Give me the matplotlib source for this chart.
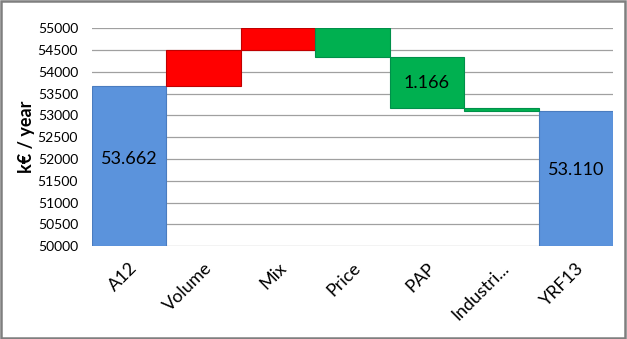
import matplotlib.pyplot as plt
import numpy as np
from matplotlib.patches import Rectangle

# Dados da cascata (k€ / ano)
categorias = ['A12', 'Volume', 'Mix', 'Price', 'PAP', 'Industri...', 'YRF13']
inicio = 53662
variacoes = [838, 500, -665, -1166, -59]
fim = 53110
rotulos = {0: '53.662', 4: '1.166', 6: '53.110'}

azul = '#5B93DC'
vermelho = '#FF0000'
verde = '#00B050'

plt.rcParams['font.family'] = ['Lato', 'DejaVu Sans']

fig = plt.figure(figsize=(6.27, 3.39), dpi=100)
ax = fig.add_axes([0.1467, 0.274, 0.831, 0.643])

base = 50000
x = np.arange(len(categorias))

# barras de início e fim
ax.bar(0, inicio - base, bottom=base, width=1.0, color=azul, edgecolor='#4A7CBF', linewidth=0.8, zorder=3)
ax.bar(6, fim - base, bottom=base, width=1.0, color=azul, edgecolor='#4A7CBF', linewidth=0.8, zorder=3)

# barras intermediárias
nivel = inicio
for i, v in enumerate(variacoes, start=1):
    cor = vermelho if v > 0 else verde
    borda = '#C00000' if v > 0 else '#00904A'
    ax.bar(i, abs(v), bottom=min(nivel, nivel + v), width=1.0, color=cor,
           edgecolor=borda, linewidth=0.8, zorder=3)
    nivel += v

# rótulos dentro das barras
ax.text(0, 52000, rotulos[0], ha='center', va='center', fontsize=13, zorder=4)
ax.text(4, 53169 + 1166 / 2, rotulos[4], ha='center', va='center', fontsize=13, zorder=4)
ax.text(6, 51750, rotulos[6], ha='center', va='center', fontsize=13, zorder=4)

ax.set_ylim(50000, 55000)
ax.set_xlim(-0.5, 6.5)
ax.set_yticks(np.arange(50000, 55001, 500))
ax.yaxis.grid(True, color='#A0A0A0', linewidth=0.9, zorder=0)
ax.set_axisbelow(True)
for s in ax.spines.values():
    s.set_visible(False)
ax.tick_params(axis='both', length=0)
ax.tick_params(axis='y', pad=10, labelsize=10)
ax.set_xticks(x)
ax.set_xticklabels(categorias, rotation=45, ha='right', rotation_mode='anchor', fontsize=13)
ax.tick_params(axis='x', pad=10)
ax.set_ylabel('k€ / year', fontsize=13, fontweight='bold')
ax.yaxis.set_label_coords(-0.11, 0.5)

# moldura cinza
fig.patches.append(Rectangle((0.002, 0.003), 0.995, 0.993, transform=fig.transFigure,
                             fill=False, edgecolor='#7F7F7F', linewidth=1.8))

fig.savefig('out.png', dpi=100)
